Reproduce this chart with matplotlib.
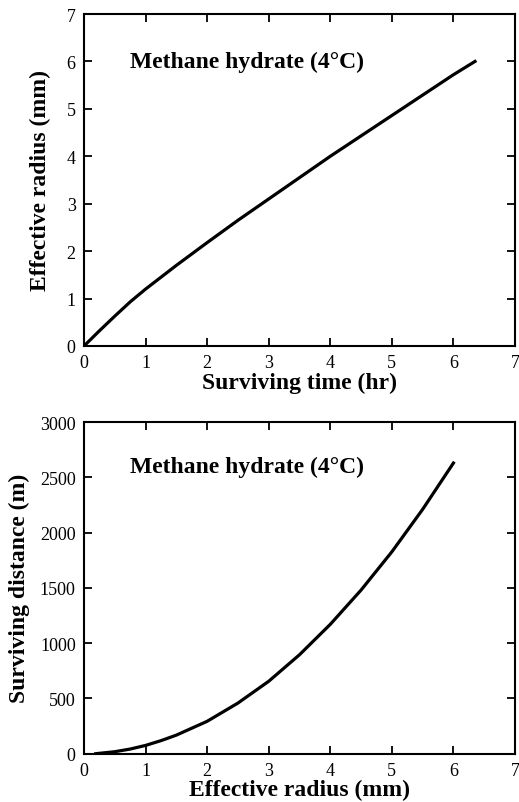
import matplotlib
matplotlib.use("Agg")
import matplotlib.pyplot as plt

# Top panel: effective radius vs surviving time
time_hr = [0, 0.25, 0.5, 0.75, 1.0, 1.5, 2.0, 2.5, 3.0, 3.5, 4.0, 4.5, 5.0, 5.5, 6.0, 6.35]
radius_mm = [0, 0.32, 0.63, 0.93, 1.20, 1.70, 2.18, 2.65, 3.10, 3.55, 4.00, 4.43, 4.86, 5.29, 5.72, 6.0]

# Bottom panel: surviving distance vs effective radius
radius_b = [0.19, 0.5, 0.75, 1.0, 1.25, 1.5, 2.0, 2.5, 3.0, 3.5, 4.0, 4.5, 5.0, 5.5, 6.0]
distance_m = [0, 18, 42, 75, 118, 168, 293, 458, 655, 895, 1170, 1480, 1826, 2210, 2629]

label_text = "Methane hydrate (4\u00b0C)"

plt.rcParams['font.family'] = ['Liberation Serif', 'DejaVu Serif']

fig = plt.figure(figsize=(5.19, 8.03), dpi=100)
W, H = 519, 803
ax1 = fig.add_axes([84 / W, (H - 347) / H, 431 / W, 332 / H])
ax2 = fig.add_axes([84 / W, (H - 754.7) / H, 431 / W, 331.7 / H])

def style(ax):
    for s in ax.spines.values():
        s.set_linewidth(1.5)
    ax.tick_params(direction='in', length=6, width=1.3, top=True, right=True,
                   labelsize=13, pad=6)

ax1.plot(time_hr, radius_mm, color='black', lw=2.3, solid_joinstyle='round')
ax1.set_xlim(0, 7)
ax1.set_ylim(0, 7)
ax1.set_xticks(range(0, 8))
ax1.set_yticks(range(0, 8))
style(ax1)
ax1.set_xlabel("Surviving time (hr)", fontsize=17, fontweight='bold', labelpad=0)
ax1.set_ylabel("Effective radius (mm)", fontsize=17, fontweight='bold', labelpad=11)
ax1.text(0.75, 6.0, label_text, fontsize=17, fontweight='bold', va='center', ha='left')

ax2.plot(radius_b, distance_m, color='black', lw=2.3, solid_joinstyle='round')
ax2.set_xlim(0, 7)
ax2.set_ylim(0, 3000)
ax2.set_xticks(range(0, 8))
ax2.set_yticks(range(0, 3001, 500))
style(ax2)
ax2.set_xlabel("Effective radius (mm)", fontsize=17, fontweight='bold', labelpad=0)
ax2.set_ylabel("Surviving distance (m)", fontsize=17, fontweight='bold', labelpad=7)
ax2.text(0.75, 2600, label_text, fontsize=17, fontweight='bold', va='center', ha='left')

fig.savefig("out.png", dpi=100)
